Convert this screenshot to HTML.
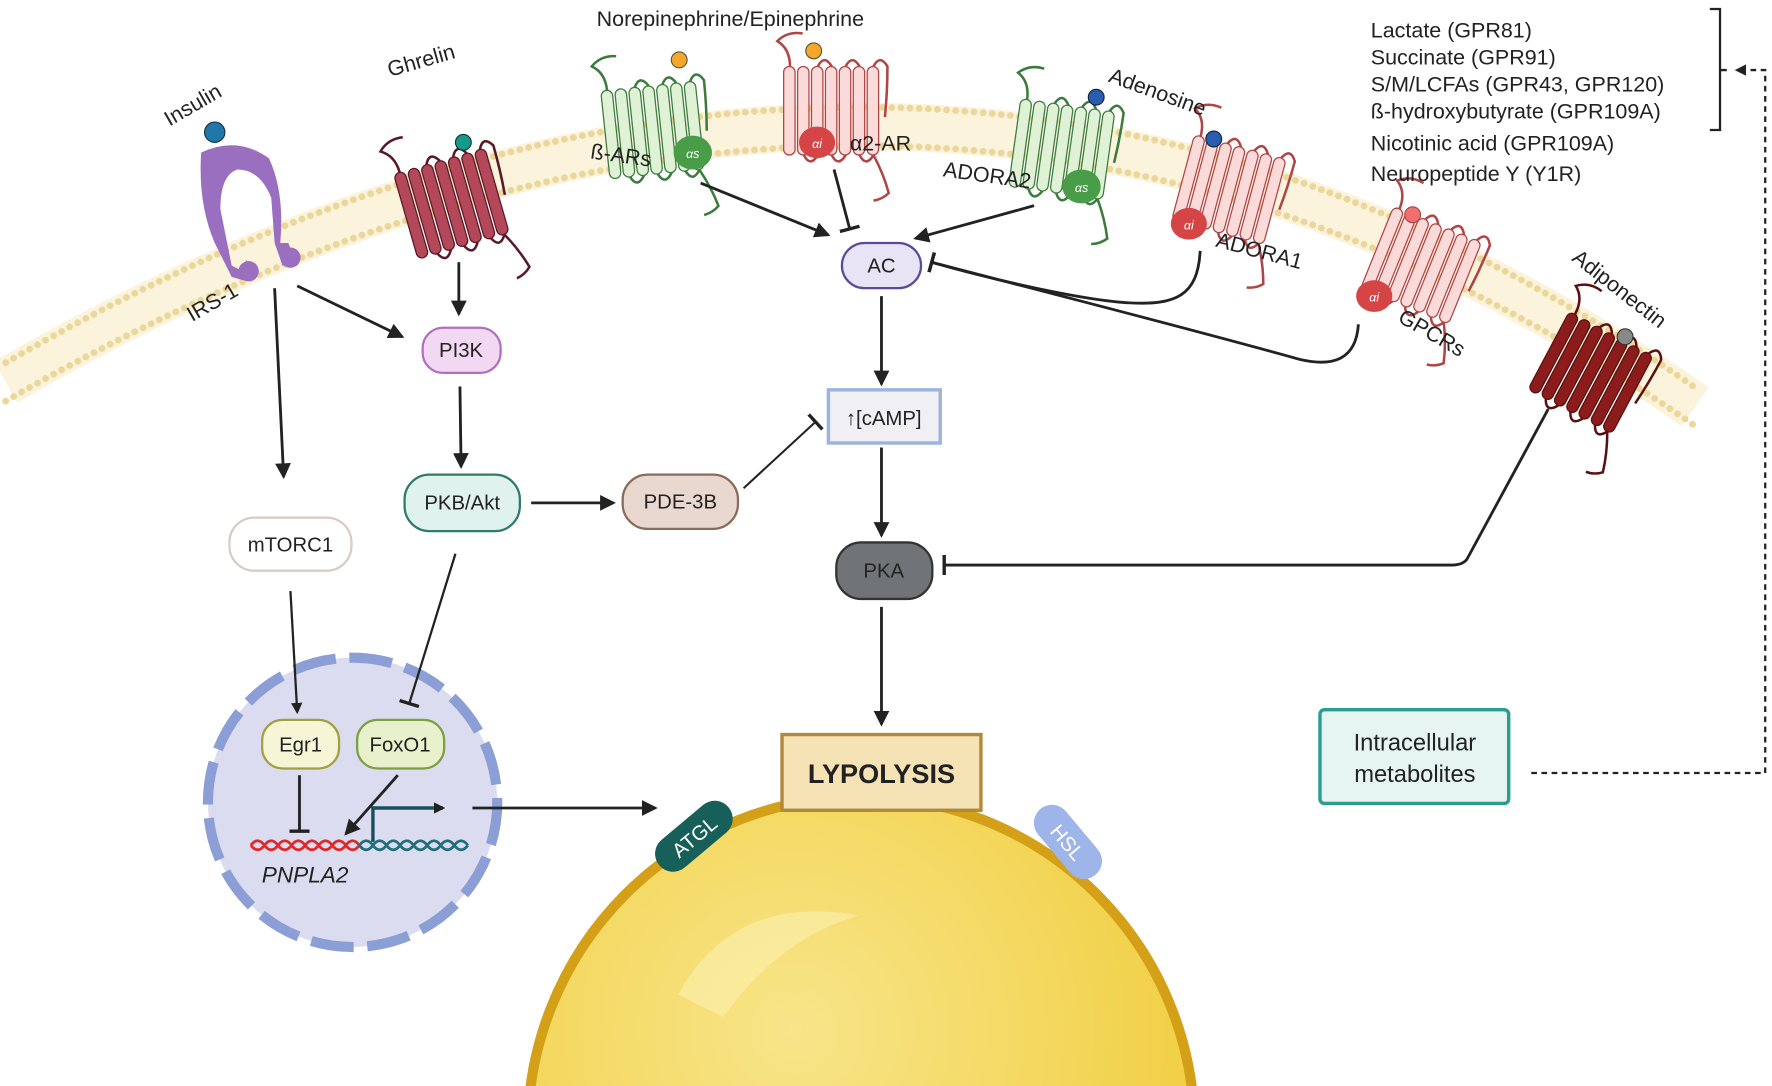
<!DOCTYPE html>
<html><head><meta charset="utf-8"><style>
html,body{margin:0;padding:0;background:#fff;overflow:hidden;width:1772px;height:1086px;}
svg{display:block;}
text{font-family:"Liberation Sans",sans-serif;}
</style></head><body>
<svg width="1772" height="1086" viewBox="0 0 1568 961" preserveAspectRatio="none" xmlns="http://www.w3.org/2000/svg">
<defs>
<marker id="ar" markerWidth="10" markerHeight="10" refX="8" refY="5" orient="auto" markerUnits="userSpaceOnUse"><path d="M0,0 L10,5 L0,10 z" fill="#222"/></marker>
<marker id="ar2" markerWidth="14" markerHeight="14" refX="12" refY="7" orient="auto" markerUnits="userSpaceOnUse"><path d="M0,0 L14,7 L0,14 z" fill="#222"/></marker>
<marker id="tb" markerWidth="4" markerHeight="18" refX="2" refY="9" orient="auto" markerUnits="userSpaceOnUse"><rect x="0" y="0" width="3" height="18" fill="#222"/></marker>
<g id="rec">
<rect x="-38" y="-35" width="9" height="70" rx="4.5"/>
<rect x="-27" y="-35" width="9" height="70" rx="4.5"/>
<rect x="-16" y="-35" width="9" height="70" rx="4.5"/>
<rect x="-5" y="-35" width="9" height="70" rx="4.5"/>
<rect x="6" y="-35" width="9" height="70" rx="4.5"/>
<rect x="17" y="-35" width="9" height="70" rx="4.5"/>
<rect x="28" y="-35" width="9" height="70" rx="4.5"/>
<path d="M-33,-35 q0,-14 -10,-20 q8,-8 20,-6 M-22,35 q5,10 11,0 M-11,-35 q5,-10 11,0 M0,35 q5,10 11,0 M11,-35 q5,-10 11,0 M22,35 q5,10 11,0 M33,-35 q5,-10 11,0 q0,20 -2,40 M33,35 q8,15 12,30 q-5,5 -12,6" fill="none" stroke-width="2"/>
</g>
<radialGradient id="lip" cx="0.4" cy="0.35" r="0.7"><stop offset="0" stop-color="#f8e58a"/><stop offset="1" stop-color="#f0cc3a"/></radialGradient>
</defs>

<!-- membrane -->
<path d="M5,338 Q807,-125 1500,360" fill="none" stroke="#fbf3dc" stroke-width="42"/>
<path d="M5,321 Q807,-142 1500,343" fill="none" stroke="#ecd79a" stroke-width="6" stroke-dasharray="0.1 8" stroke-linecap="round"/>
<path d="M5,355 Q807,-108 1500,377" fill="none" stroke="#ecd79a" stroke-width="6" stroke-dasharray="0.1 8" stroke-linecap="round"/>

<!-- insulin receptor -->
<g fill="#9b6fc0">
<path d="M178,135 Q210,120 238,140 Q252,170 248,215 L255,215 L262,230 L250,235 L243,215 L240,175 Q230,150 210,150 Q195,155 195,185 L205,235 L215,240 L218,230 L225,240 L215,248 L205,245 L190,215 Q175,180 178,135 z"/>
<circle cx="220" cy="240" r="9"/><circle cx="257" cy="228" r="9"/>
</g>
<circle cx="190" cy="117" r="9" fill="#1f78a8" stroke="#134" stroke-width="1"/>

<!-- receptors -->
<use href="#rec" transform="translate(400,180) rotate(-16) scale(1.12)" fill="#b5475a" stroke="#5a1a25"/>
<circle cx="410" cy="126" r="7" fill="#14998a" stroke="#133" />
<use href="#rec" transform="translate(578,115) rotate(-6) scale(1.12)" fill="#dff2d6" stroke="#3d7a3d"/>
<circle cx="601" cy="53" r="7" fill="#f4a72c" stroke="#553"/>
<ellipse cx="613" cy="135" rx="17" ry="15" fill="#4a9d48"/><text x="613" y="140" font-size="11" fill="#fff" text-anchor="middle" font-style="italic">αs</text>
<use href="#rec" transform="translate(736,98) scale(1.12)" fill="#fbdada" stroke="#b04545"/>
<circle cx="720" cy="45" r="7" fill="#f4a72c" stroke="#553"/>
<ellipse cx="723" cy="126" rx="16" ry="14" fill="#d64545"/><text x="723" y="131" font-size="11" fill="#fff" text-anchor="middle" font-style="italic">αi</text>
<use href="#rec" transform="translate(940,132) rotate(8) scale(1.12)" fill="#dff2d6" stroke="#3d7a3d"/>
<circle cx="970" cy="86" r="7" fill="#2a5db0" stroke="#123"/>
<ellipse cx="957" cy="165" rx="17" ry="15" fill="#4a9d48"/><text x="957" y="170" font-size="11" fill="#fff" text-anchor="middle" font-style="italic">αs</text>
<use href="#rec" transform="translate(1088,168) rotate(15) scale(1.12)" fill="#fbdada" stroke="#b04545"/>
<circle cx="1074" cy="123" r="7" fill="#2a5db0" stroke="#123"/>
<ellipse cx="1052" cy="198" rx="16" ry="14" fill="#d64545"/><text x="1052" y="203" font-size="11" fill="#fff" text-anchor="middle" font-style="italic">αi</text>
<use href="#rec" transform="translate(1258,235) rotate(22) scale(1.12)" fill="#fbdada" stroke="#b04545"/>
<circle cx="1250" cy="190" r="7" fill="#f07070" stroke="#a44"/>
<ellipse cx="1216" cy="262" rx="16" ry="14" fill="#d64545"/><text x="1216" y="267" font-size="11" fill="#fff" text-anchor="middle" font-style="italic">αi</text>
<use href="#rec" transform="translate(1408,330) rotate(28) scale(1.12)" fill="#8c1c1c" stroke="#5a1010"/>
<circle cx="1438" cy="298" r="7" fill="#888" stroke="#333"/>

<!-- labels -->
<g font-size="19" fill="#222">
<text transform="translate(150,112) rotate(-30)">Insulin</text>
<text transform="translate(345,68) rotate(-16)">Ghrelin</text>
<text x="528" y="23">Norepinephrine/Epinephrine</text>
<text transform="translate(980,72) rotate(20)">Adenosine</text>
<text transform="translate(522,140) rotate(8)">ß-ARs</text>
<text x="752" y="133">α2-AR</text>
<text transform="translate(834,156) rotate(8)">ADORA2</text>
<text transform="translate(1075,218) rotate(15)">ADORA1</text>
<text transform="translate(1236,284) rotate(30)">GPCRs</text>
<text transform="translate(1390,230) rotate(38)">Adiponectin</text>
<text transform="translate(170,285) rotate(-30)">IRS-1</text>
<text x="1213" y="33">Lactate (GPR81)</text>
<text x="1213" y="57">Succinate (GPR91)</text>
<text x="1213" y="81">S/M/LCFAs (GPR43, GPR120)</text>
<text x="1213" y="105">ß-hydroxybutyrate (GPR109A)</text>
<text x="1213" y="133">Nicotinic acid (GPR109A)</text>
<text x="1213" y="160">Neuropeptide Y (Y1R)</text>
</g>
<path d="M1513,8 L1522,8 L1522,115 L1513,115 M1522,62 L1528,62" fill="none" stroke="#222" stroke-width="2"/>

<!-- lipid droplet -->
<circle cx="762" cy="1000" r="295" fill="url(#lip)" stroke="#d4a017" stroke-width="9"/>
<path d="M600,880 Q650,790 760,810 Q690,830 640,900 z" fill="#fbeeaa" opacity="0.7"/>

<!-- nucleus -->
<circle cx="312" cy="710" r="128" fill="#dcdcf0" stroke="#8b9fd6" stroke-width="9" stroke-dasharray="38 12"/>

<!-- nodes -->
<g stroke-width="2">
<rect x="745" y="215" width="70" height="40" rx="20" fill="#e8e4f6" stroke="#5b4a9a"/>
<rect x="733" y="345" width="99" height="47" fill="#f0f0f4" stroke="#9bb3e0" stroke-width="3"/>
<rect x="740" y="480" width="85" height="50" rx="22" fill="#707477" stroke="#333"/>
<rect x="374" y="290" width="69" height="40" rx="18" fill="#f3d8f3" stroke="#b070c0"/>
<rect x="358" y="420" width="102" height="50" rx="22" fill="#dff2ee" stroke="#2f7a6a"/>
<rect x="551" y="420" width="102" height="48" rx="22" fill="#e9d8cf" stroke="#8a6a5a"/>
<rect x="203" y="458" width="108" height="47" rx="22" fill="#fff" stroke="#d8ccc4"/>
<rect x="232" y="637" width="68" height="43" rx="18" fill="#f6f6d6" stroke="#a0a040"/>
<rect x="316" y="637" width="77" height="43" rx="18" fill="#e8f1cc" stroke="#7aa040"/>
<rect x="692" y="650" width="176" height="67" fill="#f5e2b5" stroke="#b08a3a" stroke-width="3"/>
<rect x="1168" y="628" width="167" height="83" rx="4" fill="#e6f5f1" stroke="#2a9d8f" stroke-width="3"/>
</g>
<g font-size="18" fill="#222" text-anchor="middle">
<text x="780" y="241">AC</text>
<text x="782" y="376">↑[cAMP]</text>
<text x="782" y="511">PKA</text>
<text x="408" y="316">PI3K</text>
<text x="409" y="451">PKB/Akt</text>
<text x="602" y="450">PDE-3B</text>
<text x="257" y="488">mTORC1</text>
<text x="266" y="665">Egr1</text>
<text x="354" y="665">FoxO1</text>
<text x="780" y="693" font-size="24" font-weight="bold">LYPOLYSIS</text>
<text x="1252" y="664" font-size="21">Intracellular</text>
<text x="1252" y="692" font-size="21">metabolites</text>
<text x="270" y="781" font-style="italic" font-size="20">PNPLA2</text>
</g>

<!-- ATGL, HSL -->
<g transform="translate(614,740) rotate(-40)"><rect x="-40" y="-16" width="80" height="32" rx="16" fill="#17605a"/><text x="0" y="7" font-size="18" fill="#fff" text-anchor="middle">ATGL</text></g>
<g transform="translate(945,745) rotate(50)"><rect x="-38" y="-16" width="76" height="32" rx="16" fill="#9db5e8"/><text x="0" y="7" font-size="18" fill="#fff" text-anchor="middle">HSL</text></g>

<!-- DNA -->
<path d="M222,748 q6,-8 12,0 t12,0 t12,0 t12,0 t12,0 t12,0 t12,0 t12,0 M222,748 q6,8 12,0 t12,0 t12,0 t12,0 t12,0 t12,0 t12,0 t12,0" fill="none" stroke="#e02828" stroke-width="2.5"/>
<path d="M318,748 q6,-8 12,0 t12,0 t12,0 t12,0 t12,0 t12,0 t12,0 t12,0 M318,748 q6,8 12,0 t12,0 t12,0 t12,0 t12,0 t12,0 t12,0 t12,0" fill="none" stroke="#1f6f7a" stroke-width="2.5"/>
<path d="M330,745 L330,715 L392,715" fill="none" stroke="#17505a" stroke-width="3" marker-end="url(#ar)"/>

<!-- connectors -->
<g stroke="#222" stroke-width="2.5" fill="none">
<line x1="406" y1="232" x2="406" y2="278" marker-end="url(#ar2)"/>
<line x1="263" y1="253" x2="356" y2="298" marker-end="url(#ar2)"/>
<line x1="243" y1="255" x2="251" y2="422" marker-end="url(#ar2)"/>
<line x1="407" y1="342" x2="408" y2="413" marker-end="url(#ar2)"/>
<line x1="620" y1="162" x2="733" y2="208" marker-end="url(#ar2)"/>
<line x1="738" y1="150" x2="752" y2="203" marker-end="url(#tb)"/>
<line x1="915" y1="182" x2="810" y2="211" marker-end="url(#ar2)"/>
<path d="M1062,222 C1060,262 1040,270 1000,268 C960,266 880,248 824,232" marker-end="url(#tb)"/>
<path d="M1202,287 C1200,318 1180,325 1150,318 C1050,290 900,252 824,232" marker-end="url(#tb)"/>
<line x1="780" y1="262" x2="780" y2="340" marker-end="url(#ar2)"/>
<line x1="780" y1="396" x2="780" y2="474" marker-end="url(#ar2)"/>
<line x1="780" y1="537" x2="780" y2="641" marker-end="url(#ar2)"/>
<line x1="470" y1="445" x2="543" y2="445" marker-end="url(#ar2)"/>
<line x1="658" y1="432" x2="722" y2="373" stroke-width="1.8" marker-end="url(#tb)"/>
<path d="M1370,362 L1298,495 Q1294,500 1285,500 L835,500" marker-end="url(#tb)"/>
<line x1="257" y1="523" x2="263" y2="630" stroke-width="2" marker-end="url(#ar)"/>
<line x1="403" y1="490" x2="362" y2="623" stroke-width="2" marker-end="url(#tb)"/>
<line x1="265" y1="686" x2="265" y2="736" marker-end="url(#tb)"/>
<line x1="352" y1="686" x2="306" y2="738" marker-end="url(#ar2)"/>
<line x1="418" y1="715" x2="580" y2="715" marker-end="url(#ar2)"/>
<path d="M1355,684 L1562,684 L1562,62 L1537,62" stroke-width="2" stroke-dasharray="5 4" marker-end="url(#ar)"/>
</g>
</svg>
</body></html>
